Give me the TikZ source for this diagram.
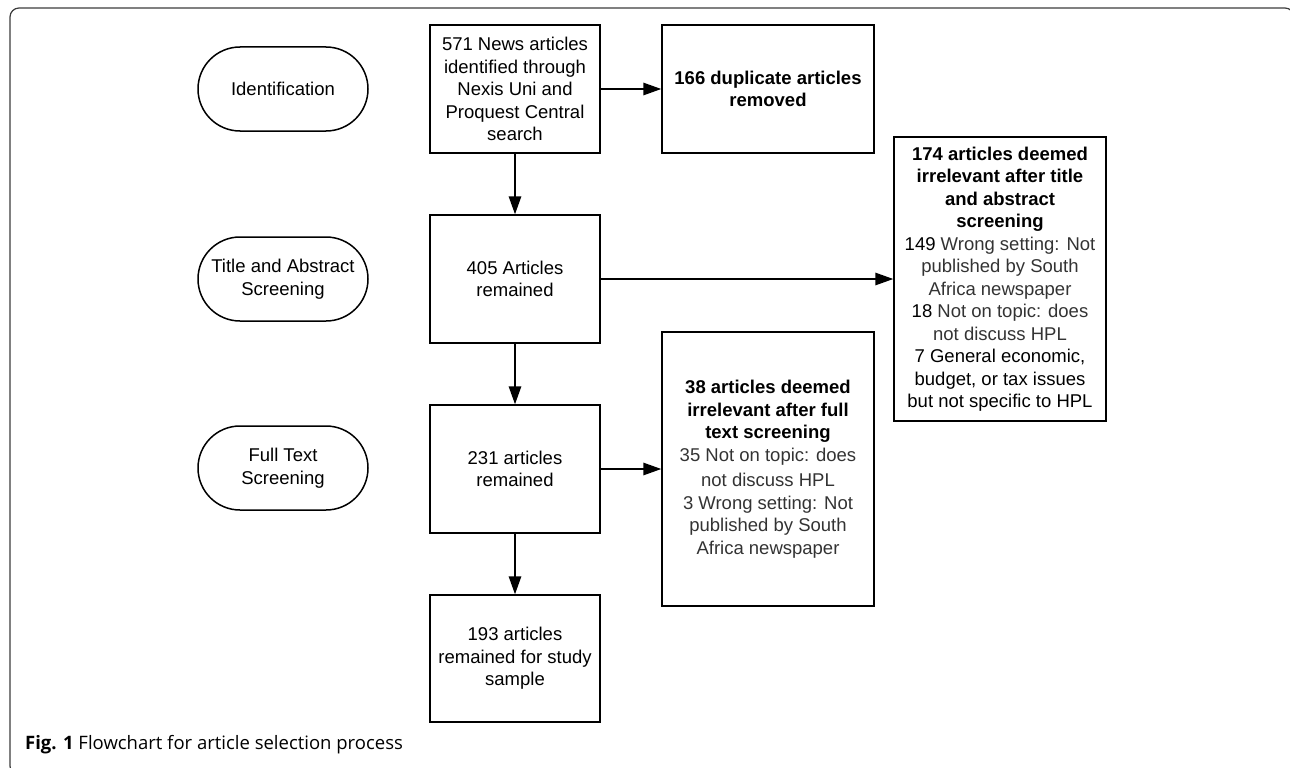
\documentclass[tikz,border=0pt]{standalone}
\usepackage{fontspec}
\setmainfont{Liberation Sans}
\newfontfamily\capfont{Open Sans}
\usetikzlibrary{arrows.meta,shapes.misc}

\definecolor{greytext}{RGB}{51,51,51}
\definecolor{framegrey}{RGB}{60,60,60}

\tikzset{
  stage/.style={draw, line width=1.5pt, rounded rectangle, minimum width=170pt, minimum height=84pt, align=center, inner sep=0pt, font=\fontsize{18.5}{22.5}\selectfont},
  stepbox/.style={draw, line width=1.5pt, rectangle, minimum width=170pt, minimum height=128pt, align=center, inner sep=0pt, font=\fontsize{18.5}{22.5}\selectfont},
  widebox/.style={stepbox, minimum width=212pt},
  flow/.style={line width=1.5pt, -{Triangle[length=18pt,width=12.5pt]}}
}

\begin{document}
\begin{tikzpicture}[x=1pt,y=1pt,yscale=-1,xscale=1]
\useasboundingbox (0,0) rectangle (1290,768);

%Frame
\draw [color=framegrey, line width=1.2pt, rounded corners=9pt] (10,8) rectangle (1294,775) ;

%Stages
\node [stage] (ident) at (283,89) {Identification};
\node [stage] (tascreen) at (283,279) {Title and Abstract\\Screening};
\node [stage] (ftscreen) at (283,468) {Full Text\\Screening};

%Main column
\node [stepbox] (found) at (515,89) {571 News articles\\identified through\\Nexis Uni and\\Proquest Central\\search};
\node [stepbox] (kept405) at (515,279) {405 Articles\\remained};
\node [stepbox] (kept231) at (515,469) {231 articles\\remained};
\node [stepbox, minimum height=127pt] (sample) at (515,658.5) {193 articles\\remained for study\\sample};

%Excluded boxes
\node [widebox] (dupl) at (768,89) {\textbf{166 duplicate articles}\\\textbf{removed}};
\node [widebox, minimum height=284pt] (drop174) at (1000,279) {\textbf{174 articles deemed}\\\textbf{irrelevant after title}\\\textbf{and abstract}\\\textbf{screening}\\149 \textcolor{greytext}{Wrong setting: Not}\\\textcolor{greytext}{published by South}\\\textcolor{greytext}{Africa newspaper}\\18 \textcolor{greytext}{Not on topic: does}\\\textcolor{greytext}{not discuss HPL}\\7 General economic,\\budget, or tax issues\\but not specific to HPL};
\node [widebox, minimum height=274pt] (drop38) at (768,469) {\textbf{38 articles deemed}\\\textbf{irrelevant after full}\\\textbf{text screening}\\\textcolor{greytext}{35 Not on topic: does}\\[3pt]\textcolor{greytext}{not discuss HPL}\\\textcolor{greytext}{3 Wrong setting: Not}\\\textcolor{greytext}{published by South}\\\textcolor{greytext}{Africa newspaper}};

%Arrows
\draw [flow] (found) -- (kept405) ;
\draw [flow] (found) -- (dupl) ;
\draw [flow] (kept405) -- (drop174) ;
\draw [flow] (kept405) -- (kept231) ;
\draw [flow] (kept231) -- (drop38) ;
\draw [flow] (kept231) -- (sample) ;

%Caption
\node [anchor=base west, inner sep=0pt, font=\capfont\fontsize{18.5}{22}\selectfont] (caption) at (25,749) {\textbf{Fig. 1} Flowchart for article selection process};

\end{tikzpicture}
\end{document}
